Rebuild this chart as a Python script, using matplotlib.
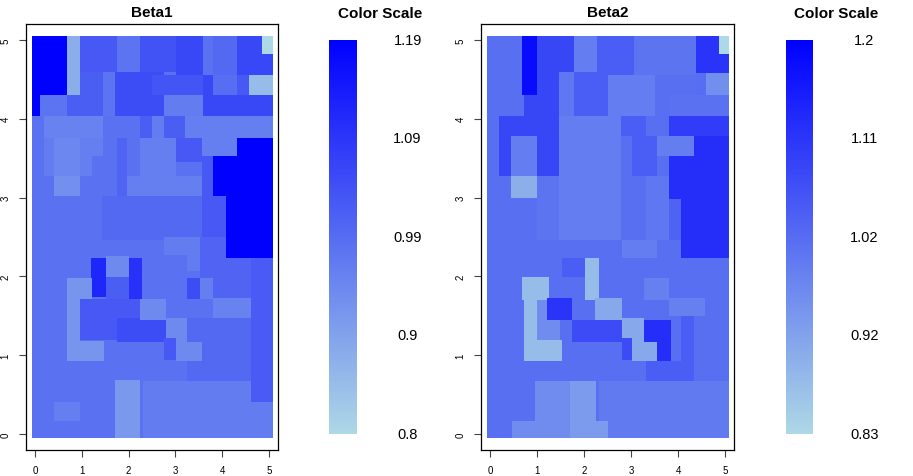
import numpy as np
import matplotlib
matplotlib.use('Agg')
import matplotlib.pyplot as plt
from matplotlib.colors import LinearSegmentedColormap, Normalize
from matplotlib.cm import ScalarMappable

plt.rcParams['font.family'] = ['Liberation Sans', 'DejaVu Sans']

# ---------------- data ----------------
panel_titles = ['Beta1', 'Beta2']
axis_ticks = [0, 1, 2, 3, 4, 5]
beta1_range = (0.80, 1.19)
beta2_range = (0.83, 1.20)
beta1_scale_labels = ['1.19', '1.09', '0.99', '0.9', '0.8']
beta2_scale_labels = ['1.2', '1.11', '1.02', '0.92', '0.83']

beta1_base = 0.985
# (x0, x1, y0, y1, value) -- painted in order
beta1_regions = [
    (0.00, 0.68, 4.30, 5.00, 1.19),
    (0.00, 0.10, 4.04, 4.30, 1.19),
    (0.68, 0.96, 4.30, 5.00, 0.875),
    (0.96, 1.74, 4.59, 5.00, 1.03),
    (1.74, 2.24, 4.60, 5.00, 0.98),
    (2.24, 3.00, 4.60, 5.00, 1.04),
    (3.00, 3.57, 4.55, 5.00, 1.06),
    (3.57, 3.78, 4.55, 5.00, 0.985),
    (3.78, 4.30, 4.55, 5.00, 1.00),
    (4.30, 5.00, 4.55, 5.00, 1.06),
    (4.84, 5.00, 4.82, 5.00, 0.80),
    (0.96, 1.45, 4.30, 4.59, 1.02),
    (1.45, 1.71, 4.00, 4.60, 0.98),
    (1.71, 2.74, 4.04, 4.60, 1.05),
    (2.50, 3.57, 4.30, 4.55, 1.035),
    (3.57, 3.78, 4.30, 4.55, 1.06),
    (3.78, 4.30, 4.30, 4.55, 0.99),
    (4.30, 4.56, 4.30, 4.55, 1.03),
    (4.56, 5.00, 4.30, 4.55, 0.85),
    (0.10, 0.68, 4.04, 4.30, 0.98),
    (0.68, 1.45, 4.04, 4.30, 1.02),
    (2.74, 3.57, 4.04, 4.30, 0.965),
    (3.57, 5.00, 4.04, 4.30, 1.06),
    (0.18, 1.45, 3.76, 4.04, 0.955),
    (1.45, 2.24, 3.76, 4.04, 0.985),
    (2.24, 2.50, 3.76, 4.04, 1.02),
    (2.50, 2.74, 3.76, 4.04, 0.965),
    (2.74, 3.20, 3.76, 4.04, 1.02),
    (3.20, 5.00, 3.76, 4.04, 0.96),
    (4.30, 5.00, 3.53, 3.76, 1.19),
    (3.78, 5.00, 3.02, 3.53, 1.19),
    (4.06, 5.00, 2.24, 3.02, 1.19),
    (3.56, 4.30, 3.53, 3.76, 0.96),
    (3.00, 3.56, 3.45, 3.76, 1.03),
    (2.24, 3.00, 3.28, 3.76, 0.96),
    (1.96, 3.56, 3.02, 3.28, 0.96),
    (3.56, 3.78, 2.50, 3.53, 1.03),
    (3.78, 4.06, 2.47, 3.02, 1.03),
    (1.42, 3.56, 2.47, 3.02, 1.00),
    (0.18, 0.40, 3.28, 3.76, 0.965),
    (0.40, 0.96, 3.28, 3.76, 0.945),
    (0.40, 0.96, 3.02, 3.28, 0.93),
    (0.96, 1.20, 3.28, 3.76, 0.96),
    (1.20, 1.45, 3.53, 3.76, 0.96),
    (1.45, 1.74, 3.02, 3.76, 0.985),
    (1.74, 1.96, 3.02, 3.76, 1.01),
    (3.52, 4.06, 1.95, 2.50, 1.01),
    (3.52, 4.60, 1.73, 2.24, 1.01),
    (2.74, 3.52, 2.28, 2.50, 0.965),
    (3.24, 3.52, 2.08, 2.50, 0.965),
    (1.18, 1.50, 1.74, 2.24, 1.12),
    (1.50, 2.00, 2.00, 2.26, 0.94),
    (2.00, 2.28, 1.71, 2.24, 1.10),
    (1.50, 2.00, 1.72, 2.00, 1.02),
    (0.96, 2.28, 1.20, 1.72, 1.03),
    (0.68, 1.20, 1.72, 1.99, 0.92),
    (0.68, 0.96, 0.93, 1.99, 0.92),
    (0.68, 1.46, 0.93, 1.19, 0.92),
    (1.74, 2.78, 1.18, 1.48, 1.05),
    (2.24, 2.78, 1.46, 1.72, 0.94),
    (3.24, 4.60, 0.68, 1.48, 1.00),
    (2.78, 3.24, 1.18, 1.48, 0.94),
    (3.00, 3.56, 0.93, 1.18, 0.94),
    (2.74, 3.00, 0.95, 1.23, 1.03),
    (3.24, 3.52, 1.72, 1.98, 1.05),
    (3.52, 3.78, 1.72, 1.98, 0.96),
    (3.78, 4.60, 1.48, 1.73, 0.955),
    (4.60, 5.00, 0.42, 2.24, 1.025),
    (2.30, 4.60, 0.00, 0.68, 0.965),
    (4.60, 5.00, 0.00, 0.42, 0.965),
    (1.70, 2.24, 0.00, 0.70, 0.915),
    (0.40, 0.96, 0.17, 0.42, 0.96),
]

beta2_base = 1.008
beta2_regions = [
    (1.00, 1.77, 4.60, 5.00, 1.078),
    (0.71, 1.45, 4.04, 4.60, 1.078),
    (0.18, 1.45, 3.78, 4.04, 1.078),
    (0.18, 0.43, 3.28, 3.78, 1.078),
    (0.99, 1.45, 3.28, 3.78, 1.078),
    (0.43, 0.99, 3.28, 3.78, 0.985),
    (0.43, 0.99, 3.00, 3.28, 0.90),
    (0.67, 0.99, 4.30, 5.00, 1.18),
    (1.77, 2.27, 4.60, 5.00, 0.985),
    (2.27, 3.05, 4.56, 5.00, 1.04),
    (3.05, 4.36, 4.56, 5.00, 1.00),
    (4.36, 5.00, 4.58, 5.00, 1.11),
    (4.86, 5.00, 4.82, 5.00, 0.83),
    (4.58, 5.00, 4.30, 4.58, 0.955),
    (4.36, 4.58, 4.30, 4.58, 1.01),
    (1.45, 1.77, 4.04, 4.60, 0.995),
    (1.77, 2.50, 4.04, 4.60, 1.04),
    (2.50, 3.50, 4.04, 4.56, 0.985),
    (3.50, 3.80, 4.04, 4.56, 1.008),
    (3.80, 5.00, 4.04, 4.30, 1.005),
    (3.80, 5.00, 3.78, 4.04, 1.097),
    (4.33, 5.00, 2.47, 3.78, 1.12),
    (3.80, 4.33, 2.98, 3.53, 1.12),
    (4.06, 4.33, 2.47, 2.98, 1.12),
    (3.55, 4.33, 3.53, 3.78, 0.985),
    (1.45, 2.77, 2.47, 4.04, 0.985),
    (2.77, 3.30, 3.78, 4.04, 1.04),
    (3.00, 3.55, 3.28, 3.78, 1.04),
    (0.99, 1.45, 2.47, 3.28, 1.00),
    (3.30, 3.80, 2.47, 3.28, 0.995),
    (3.80, 4.06, 2.47, 2.98, 1.03),
    (4.04, 5.00, 2.24, 2.47, 1.12),
    (2.80, 3.55, 2.24, 2.47, 0.985),
    (1.52, 2.02, 2.00, 2.24, 1.04),
    (0.67, 1.24, 1.71, 2.00, 0.878),
    (0.71, 0.99, 0.93, 1.71, 0.878),
    (0.71, 1.52, 0.93, 1.20, 0.878),
    (1.21, 1.74, 1.46, 1.73, 1.11),
    (0.99, 1.49, 1.20, 1.46, 0.96),
    (0.99, 1.21, 1.46, 1.71, 0.96),
    (2.02, 2.30, 1.71, 2.24, 0.878),
    (2.23, 2.80, 1.46, 1.73, 0.91),
    (1.74, 2.80, 1.18, 1.46, 1.07),
    (2.80, 3.26, 1.18, 1.48, 0.91),
    (3.00, 3.55, 0.93, 1.18, 0.91),
    (2.80, 3.00, 0.95, 1.23, 1.07),
    (3.26, 3.83, 1.18, 1.46, 1.12),
    (3.55, 3.83, 0.93, 1.18, 1.12),
    (4.04, 4.33, 0.68, 1.50, 1.04),
    (3.30, 4.04, 0.68, 0.93, 1.04),
    (3.80, 4.57, 1.50, 1.73, 0.98),
    (3.26, 3.80, 1.71, 1.98, 0.98),
    (2.30, 5.00, 0.00, 0.68, 0.99),
    (0.96, 1.74, 0.00, 0.68, 0.96),
    (0.46, 0.96, 0.00, 0.17, 0.96),
    (1.70, 2.24, 0.00, 0.68, 0.935),
    (2.24, 2.50, 0.00, 0.17, 0.935),
]

# ---------------- figure ----------------
W, H = 913, 477
fig = plt.figure(figsize=(W / 100, H / 100), dpi=100)
cmap = LinearSegmentedColormap.from_list('lb2b', ['#ADD8E6', '#0000FF'])


def fr(l, t, r, b):
    return [l / W, 1 - b / H, (r - l) / W, (b - t) / H]


def paint(regions, base):
    xs = np.arange(-0.07, 5.07, 0.01) + 0.005
    ys = np.arange(-0.045, 5.045, 0.01) + 0.005
    X, Y = np.meshgrid(xs, ys)
    Z = np.full(X.shape, base)
    for x0, x1, y0, y1, v in regions:
        x0 = -1 if x0 <= 0 else x0
        y0 = -1 if y0 <= 0 else y0
        x1 = 6 if x1 >= 5 else x1
        y1 = 6 if y1 >= 5 else y1
        m = (X >= x0) & (X < x1) & (Y >= y0) & (Y < y1)
        Z[m] = v
    return Z


panels = [
    (beta1_regions, beta1_base, beta1_range, beta1_scale_labels,
     (25.6, 25.2, 278.4, 450.8), (329.3, 40.7, 356.7, 435.0)),
    (beta2_regions, beta2_base, beta2_range, beta2_scale_labels,
     (480.6, 25.2, 734.4, 450.8), (786.0, 40.7, 813.3, 435.0)),
]

for i, (regions, base, rng, labels, box, cbox) in enumerate(panels):
    ax = fig.add_axes(fr(*box))
    Z = paint(regions, base)
    ax.imshow(Z, origin='lower', extent=(-0.07, 5.07, -0.045, 5.045),
              cmap=cmap, vmin=rng[0], vmax=rng[1], interpolation='nearest',
              aspect='auto')
    ax.set_xlim(-0.2, 5.2)
    ax.set_ylim(-0.2, 5.2)
    ax.set_xticks(axis_ticks)
    ax.set_yticks(axis_ticks)
    ax.set_xticklabels([str(t) for t in axis_ticks])
    ax.set_yticklabels([str(t) for t in axis_ticks], rotation=90, va='center')
    ax.tick_params(axis='both', labelsize=7, length=5, width=0.8,
                   color='#444444', pad=6)
    for s in ax.spines.values():
        s.set_linewidth(0.9)
    ax.text(0.5, 1 + 12.2 / 425.6, panel_titles[i], transform=ax.transAxes,
            ha='center', va='center', fontsize=11, fontweight='bold')

    cax = fig.add_axes(fr(*cbox))
    cb = fig.colorbar(ScalarMappable(norm=Normalize(*rng), cmap=cmap), cax=cax)
    cb.outline.set_visible(False)
    cax.set_yticks([])
    cw = cbox[2] - cbox[0]
    ch = cbox[3] - cbox[1]
    for k, lab in enumerate(labels):
        cax.text(78.3 / cw, 1 - k / 4, lab, transform=cax.transAxes,
                 ha='center', va='center', fontsize=10.5)
    cax.text(50.5 / cw, 1 + (40.7 - 13.5) / ch, 'Color Scale',
             transform=cax.transAxes, ha='center', va='center',
             fontsize=11, fontweight='bold')

fig.savefig('out.png', dpi=100)
